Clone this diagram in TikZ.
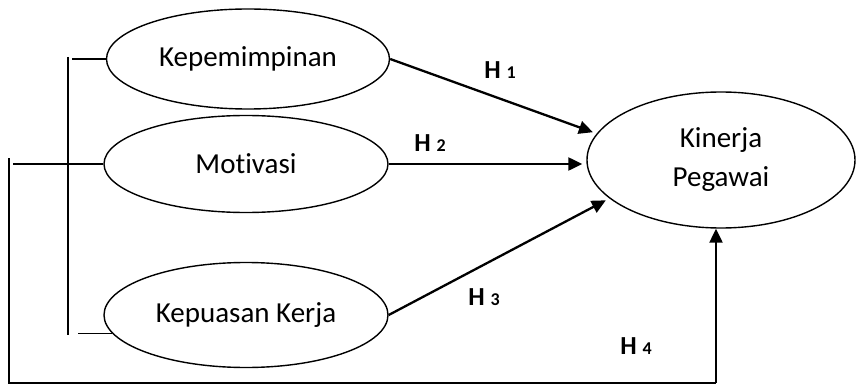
\documentclass[tikz,border=0pt]{standalone}
\usepackage{fontspec}
\setmainfont[Ligatures={NoCommon}]{Carlito}
\usepackage{tikz}
\usetikzlibrary{
    arrows.meta,
    shapes,
    calc,
    positioning
}
\tikzset{
    var/.style={draw, ellipse, line width=1.4pt, inner sep=0pt, align=center, font=\fontsize{29}{39}\selectfont},
    hyp/.style={line width=2.3pt, -{Triangle[length=14pt, width=13pt]}, shorten >=4pt},
    link/.style={line width=1.4pt},
    hlabel/.style={inner sep=0pt, font=\fontsize{26}{26}\selectfont\bfseries}
}
\newcommand{\hnum}[1]{H {\fontsize{18}{18}\selectfont #1}}

\begin{document}
\begin{tikzpicture}[x=1pt, y=1pt]
                        \useasboundingbox (0, 0) rectangle (856, -385);
                        \node[var, minimum width=283, minimum height=100] (kpm) at (248, -59) {Kepemimpinan};
                        \node[var, minimum width=284, minimum height=97] (mot) at (246, -164) {Motivasi};
                        \node[var, minimum width=284, minimum height=105] (kep) at (246, -315) {Kepuasan Kerja};
                        \node[var, minimum width=268, minimum height=136] (kin) at (721, -160) {Kinerja\\Pegawai};

                        \draw[hyp] (kpm.east) -- (kin.168);
                        \draw[hyp] (mot.east) -- (mot.east -| kin.west);
                        \draw[hyp] (kep.east) -- (kin.199);

                        \node[hlabel] (h1) at (500, -70) {\hnum{1}};
                        \node[hlabel] (h2) at (430, -143) {\hnum{2}};
                        \node[hlabel] (h3) at (484, -297) {\hnum{3}};
                        \node[hlabel] (h4l) at (636, -346) {\hnum{4}};

                        \coordinate (btop) at (68, -57);
                        \coordinate (bbot) at (68, -335);
                        \coordinate (lft) at (13, -164);
                        \coordinate (otop) at (9, -158);
                        \coordinate (obot) at (9, -383);
                        \coordinate (h4) at (716, -383);

                        \draw[link] (btop) -- (bbot);
                        \draw[link]
                        (kpm.west) -- ++(-34, 0)
                        (mot.west) -- (lft)
                        (kep.188) -- ++(-34, 0);

                        \draw[link] (otop) -- (obot) -- (h4);
                        \draw[hyp, shorten >=0pt] (h4) -- (h4 |- kin.south);
                    \end{tikzpicture}
\end{document}
